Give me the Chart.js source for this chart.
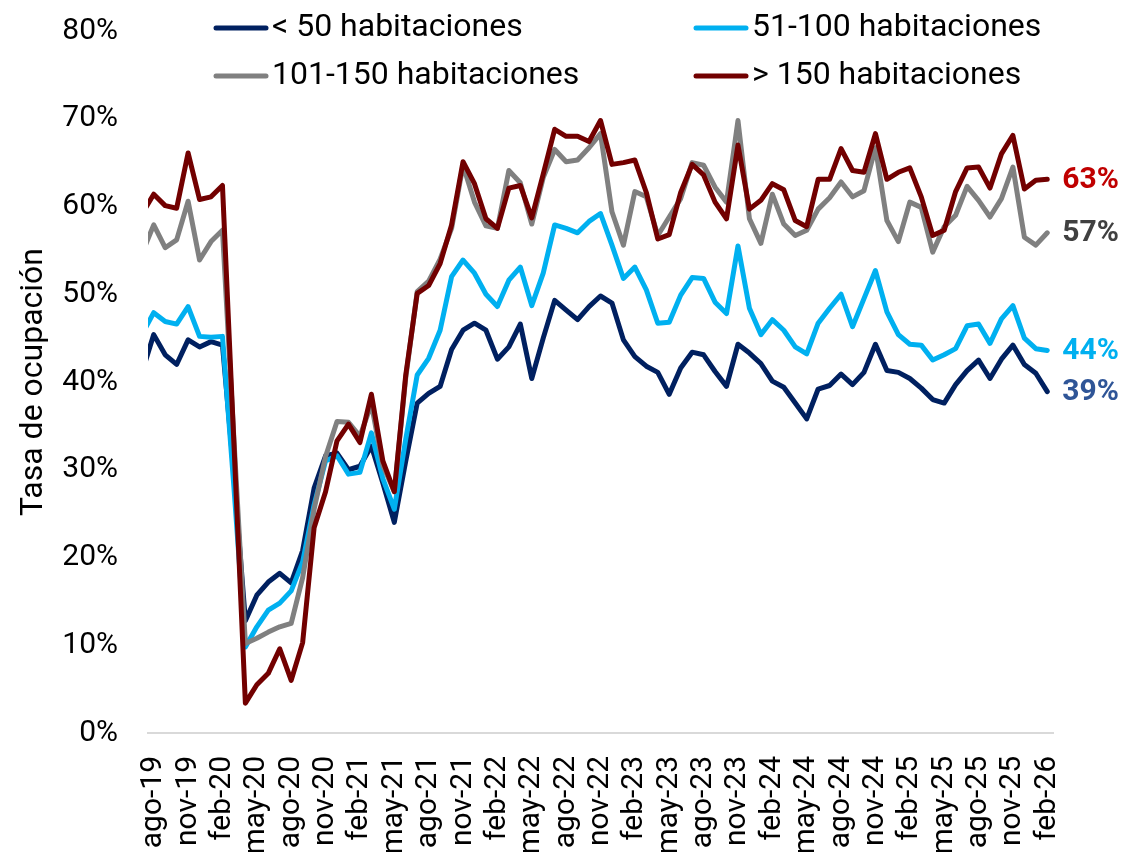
<!DOCTYPE html>
<html>
<head>
<meta charset="utf-8">
<script src="https://cdn.jsdelivr.net/npm/chart.js@4.4.1/dist/chart.umd.min.js"></script>
<style>
html,body{margin:0;padding:0;background:#ffffff;}
#wrap{width:1124px;height:852px;position:relative;}
</style>
</head>
<body>
<div id="wrap"><canvas id="c" width="1124" height="852"></canvas></div>
<script>
// ---- DATA ----
const months = [
  'jul-19','ago-19','sep-19','oct-19','nov-19','dic-19','ene-20','feb-20','mar-20','abr-20','may-20','jun-20',
  'jul-20','ago-20','sep-20','oct-20','nov-20','dic-20','ene-21','feb-21','mar-21','abr-21','may-21','jun-21',
  'jul-21','ago-21','sep-21','oct-21','nov-21','dic-21','ene-22','feb-22','mar-22','abr-22','may-22','jun-22',
  'jul-22','ago-22','sep-22','oct-22','nov-22','dic-22','ene-23','feb-23','mar-23','abr-23','may-23','jun-23',
  'jul-23','ago-23','sep-23','oct-23','nov-23','dic-23','ene-24','feb-24','mar-24','abr-24','may-24','jun-24',
  'jul-24','ago-24','sep-24','oct-24','nov-24','dic-24','ene-25','feb-25','mar-25','abr-25','may-25','jun-25',
  'jul-25','ago-25','sep-25','oct-25','nov-25','dic-25','ene-26','feb-26'
];
const xTickLabels = ['ago-19','nov-19','feb-20','may-20','ago-20','nov-20','feb-21','may-21','ago-21','nov-21',
  'feb-22','may-22','ago-22','nov-22','feb-23','may-23','ago-23','nov-23','feb-24','may-24','ago-24','nov-24',
  'feb-25','may-25','ago-25','nov-25','feb-26'];
const yTickValues = [0,10,20,30,40,50,60,70,80];
const seriesNames = ['< 50 habitaciones','51-100 habitaciones','101-150 habitaciones','> 150 habitaciones'];

const upTo50 = [
  41.2,45.4,43.1,42.0,44.8,44.0,44.6,44.2,29.5,12.8,15.7,17.2,
  18.2,17.1,20.8,27.9,31.6,31.9,30.0,30.4,32.7,28.5,24.0,31.0,
  37.6,38.7,39.5,43.7,45.9,46.7,45.9,42.6,44.0,46.6,40.4,45.0,
  49.3,48.2,47.1,48.6,49.8,49.0,44.8,42.9,41.8,41.1,38.6,41.6,
  43.4,43.1,41.2,39.5,44.3,43.3,42.1,40.1,39.4,37.6,35.8,39.2,
  39.6,40.9,39.7,41.1,44.3,41.3,41.1,40.4,39.3,38.0,37.6,39.7,
  41.3,42.5,40.4,42.6,44.2,42.0,41.0,38.9
];
const from51to100 = [
  45.5,47.9,46.9,46.6,48.6,45.2,45.1,45.2,28.0,9.8,12.1,14.0,
  14.8,16.2,19.5,26.0,31.0,31.6,29.5,29.7,34.2,29.0,25.5,33.5,
  40.8,42.7,45.9,52.0,53.9,52.4,50.0,48.6,51.6,53.1,48.7,52.4,
  57.9,57.5,57.0,58.3,59.2,55.6,51.8,53.1,50.5,46.7,46.8,49.9,
  51.9,51.8,49.1,47.8,55.5,48.4,45.4,47.1,45.9,44.0,43.2,46.7,
  48.4,50.0,46.3,49.5,52.7,48.0,45.4,44.3,44.2,42.5,43.1,43.8,
  46.4,46.6,44.4,47.2,48.7,45.0,43.8,43.6
];
const from101to150 = [
  54.7,57.9,55.3,56.2,60.6,53.9,56.0,57.3,33.5,10.2,10.8,11.5,
  12.1,12.5,17.7,25.5,31.5,35.5,35.4,33.8,37.5,30.5,27.5,40.5,
  50.3,51.5,54.0,57.5,64.7,60.5,57.8,57.5,64.1,62.7,58.0,63.3,
  66.5,65.1,65.3,66.7,68.3,59.4,55.6,61.7,61.1,56.7,58.8,60.9,
  65.0,64.7,62.2,60.5,69.8,58.6,55.8,61.4,58.0,56.7,57.3,59.7,
  61.0,62.8,61.1,61.8,66.7,58.4,56.0,60.5,59.9,54.8,57.7,59.0,
  62.3,60.7,58.8,60.9,64.5,56.5,55.6,57.0
];
const over150 = [
  59.2,61.4,60.1,59.8,66.1,60.8,61.1,62.4,33.0,3.4,5.5,6.8,
  9.6,6.0,10.3,23.4,27.5,33.3,35.2,33.1,38.6,31.0,27.5,40.8,
  50.1,51.0,53.5,57.9,65.1,62.6,58.6,57.5,62.1,62.4,58.7,63.7,
  68.8,68.0,68.0,67.4,69.8,64.8,65.0,65.3,61.6,56.3,56.8,61.6,
  64.8,63.6,60.5,58.6,67.0,59.7,60.7,62.6,61.9,58.4,57.7,63.1,
  63.1,66.6,64.1,63.9,68.3,63.1,63.9,64.4,61.1,56.7,57.3,61.7,
  64.4,64.5,62.1,66.0,68.1,62.0,63.0,63.1
];

// ---- STYLES ----
const lineColors = ['#002060','#00B0F0','#808080','#720000'];
const endLabelColors = ['#2F5597','#00B0F0','#404040','#C00000'];
const FONT = 'Roboto';

const seriesValues = [upTo50, from51to100, from101to150, over150];
const xTickIndex = xTickLabels.map(l => months.indexOf(l));

const datasets = seriesValues.map((vals, s) => ({
  label: seriesNames[s],
  data: vals.map((v, i) => ({x: i, y: v})),
  borderColor: lineColors[s],
  backgroundColor: lineColors[s],
  borderWidth: 5,
  pointRadius: 0,
  pointHoverRadius: 0,
  tension: 0,
  fill: false,
  borderJoinStyle: 'round',
  borderCapStyle: 'round',
  order: 3 - s,
  clip: {left: 0, top: false, right: false, bottom: false}
}));

const legendPlugin = {
  id: 'gridLegend',
  afterDraw(chart) {
    const ctx = chart.ctx;
    const cols = [213, 693];
    const rows = [28, 76];
    ctx.save();
    ctx.font = '32px ' + FONT;
    ctx.textBaseline = 'middle';
    ctx.textAlign = 'left';
    chart.data.datasets.forEach((ds, i) => {
      const x = cols[i % 2];
      const y = rows[Math.floor(i / 2)];
      ctx.strokeStyle = ds.borderColor;
      ctx.lineWidth = 5;
      ctx.lineCap = 'round';
      ctx.beginPath();
      ctx.moveTo(x + 3, y);
      ctx.lineTo(x + 53, y);
      ctx.stroke();
      ctx.fillStyle = '#000000';
      ctx.fillText(ds.label, x + 59, y);
    });
    ctx.restore();
  }
};

const endLabelPlugin = {
  id: 'endLabels',
  afterDatasetsDraw(chart) {
    const ctx = chart.ctx;
    ctx.save();
    ctx.font = 'bold 30px ' + FONT;
    ctx.textBaseline = 'middle';
    ctx.textAlign = 'left';
    chart.data.datasets.forEach((ds, i) => {
      const meta = chart.getDatasetMeta(i);
      const last = meta.data.length - 1;
      const pt = meta.data[last];
      const val = ds.data[last].y;
      ctx.fillStyle = endLabelColors[i];
      ctx.fillText(Math.round(val) + '%', pt.x + 15, pt.y + 1);
    });
    ctx.restore();
  }
};

Chart.defaults.font.family = FONT;

new Chart(document.getElementById('c'), {
  type: 'line',
  data: { datasets },
  plugins: [legendPlugin, endLabelPlugin],
  options: {
    responsive: false,
    devicePixelRatio: 1,
    animation: false,
    events: [],
    layout: { padding: { left: 0, right: 71, top: 11, bottom: 0 } },
    plugins: { legend: { display: false }, tooltip: { enabled: false } },
    scales: {
      x: {
        type: 'linear',
        min: 0.5,
        max: months.length - 0.5,
        afterBuildTicks: s => { s.ticks = xTickIndex.map(v => ({ value: v })); },
        afterFit: s => { s.height = 119; },
        grid: { display: false, drawTicks: false },
        border: { display: true, color: '#D9D9D9', width: 2 },
        ticks: {
          autoSkip: false,
          minRotation: 90,
          maxRotation: 90,
          padding: 23,
          color: '#000000',
          font: { family: FONT, size: 30 },
          callback: v => months[v]
        }
      },
      y: {
        min: 0,
        max: 80,
        afterBuildTicks: s => { s.ticks = yTickValues.map(v => ({ value: v })); },
        afterFit: s => { s.width = 148; },
        grid: { display: false, drawTicks: true, tickLength: 17 },
        border: { display: false },
        ticks: {
          padding: 13,
          color: '#000000',
          font: { family: FONT, size: 30 },
          callback: v => v + '%'
        },
        title: {
          display: true,
          text: 'Tasa de ocupación',
          color: '#000000',
          font: { family: FONT, size: 32 },
          padding: { top: 15, bottom: 0 }
        }
      }
    }
  }
});
</script>
</body>
</html>
